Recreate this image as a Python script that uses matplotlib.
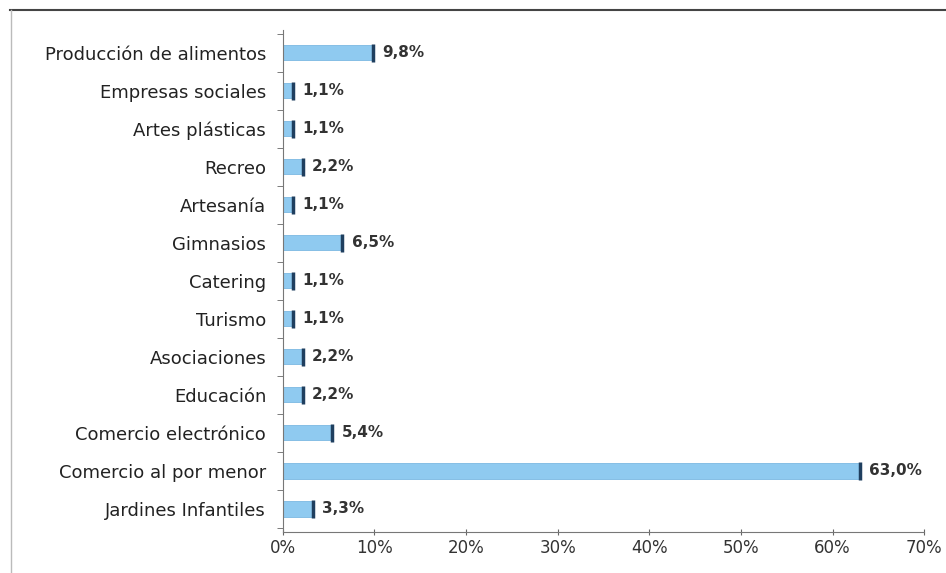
import matplotlib.pyplot as plt
from matplotlib.lines import Line2D

categories = ['Producción de alimentos', 'Empresas sociales', 'Artes plásticas', 'Recreo',
              'Artesanía', 'Gimnasios', 'Catering', 'Turismo', 'Asociaciones', 'Educación',
              'Comercio electrónico', 'Comercio al por menor', 'Jardines Infantiles']
values = [9.8, 1.1, 1.1, 2.2, 1.1, 6.5, 1.1, 1.1, 2.2, 2.2, 5.4, 63.0, 3.3]
labels = ['9,8%', '1,1%', '1,1%', '2,2%', '1,1%', '6,5%', '1,1%', '1,1%', '2,2%', '2,2%',
          '5,4%', '63,0%', '3,3%']
xticks = [0, 10, 20, 30, 40, 50, 60, 70]

fig = plt.figure(figsize=(9.46, 5.73), dpi=100)
ax = fig.add_axes([0.299, 0.072, 0.678, 0.876])

y = list(range(len(categories)))
ax.barh(y, values, height=0.4, color='#8fcaf0', edgecolor='#7bb8e2', linewidth=0.6)
ax.scatter(values, y, marker='|', s=160, linewidths=2.5, color='#1f3f5f', zorder=3)
for yi, v, lab in zip(y, values, labels):
    ax.text(v + 1.0, yi, lab, va='center', ha='left', fontsize=11, fontweight='bold',
            color='#333333')

ax.set_ylim(len(categories) - 0.4, -0.6)
ax.set_xlim(0, 70)
ax.set_yticks(y)
ax.set_yticklabels(categories, fontsize=13, color='#222222')
ax.set_yticks([i + 0.5 for i in range(-1, len(categories))], minor=True)
ax.tick_params(axis='y', which='major', length=0, pad=12)
ax.tick_params(axis='y', which='minor', length=4, color='#666666')
ax.set_xticks(xticks)
ax.set_xticklabels([f'{t}%' for t in xticks], fontsize=12, color='#333333')
ax.tick_params(axis='x', length=4, direction='inout', color='#666666')

for s in ['top', 'right']:
    ax.spines[s].set_visible(False)
ax.spines['left'].set_color('#777777')
ax.spines['bottom'].set_color('#777777')

fig.add_artist(Line2D([0.011, 1.0], [0.982, 0.982], color='#444444', lw=1.5))
fig.add_artist(Line2D([0.012, 0.012], [0.0, 0.982], color='#bbbbbb', lw=1.0))

fig.savefig('out.png', dpi=100)
